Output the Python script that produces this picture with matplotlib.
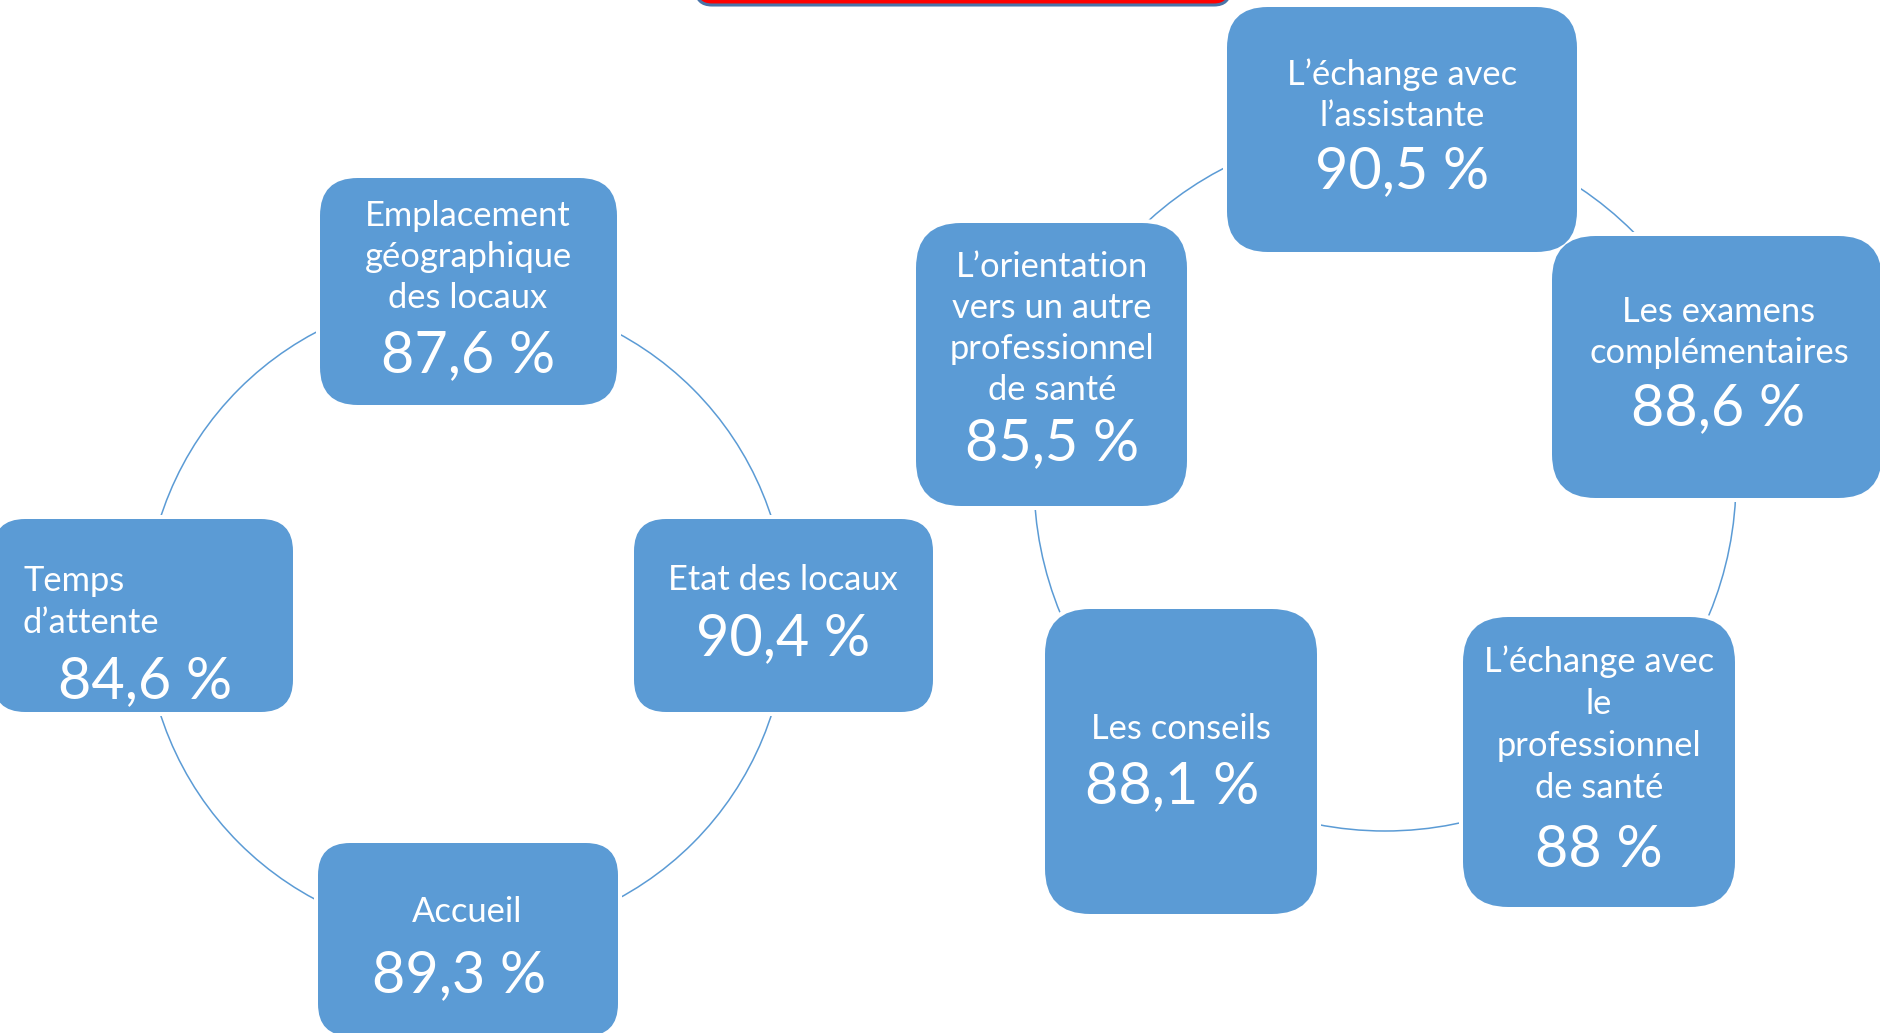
import matplotlib
matplotlib.use('Agg')
import matplotlib.pyplot as plt
from matplotlib.patches import Circle, FancyBboxPatch

plt.rcParams['font.family'] = ['Lato', 'DejaVu Sans']

# Left cycle: premises / reception
left_labels = ["Emplacement\ngéographique\ndes locaux", "Temps\nd’attente", "Etat des locaux", "Accueil"]
left_values = [87.6, 84.6, 90.4, 89.3]

# Right cycle: consultation
right_labels = ["L’échange avec\nl’assistante", "Les examens\ncomplémentaires",
                "L’échange avec\nle\nprofessionnel\nde santé", "Les conseils",
                "L’orientation\nvers un autre\nprofessionnel\nde santé"]
right_values = [90.5, 88.6, 88.0, 88.1, 85.5]

BLUE = '#5B9BD5'
W, H = 1880, 1033
LABEL_FS = 24.8
VALUE_FS = 41.5

# layout in pixels: box (x0, y0, x1, y1), label x, first baseline, line step, align, value x, value baseline
left_layout = [
    ((320, 178, 617, 405), 468, 226, 41, 'center', 468, 372),
    ((-7, 519, 293, 712), 23, 591, 42, 'left', 145, 698),
    ((634, 519, 933, 712), 783, 590, 42, 'center', 783, 655),
    ((318, 843, 618, 1036), 467, 922, 42, 'center', 459, 992),
]
right_layout = [
    ((1227, 7, 1577, 252), 1402, 85, 41, 'center', 1402, 188),
    ((1552, 236, 1882, 498), 1719, 322, 41, 'center', 1718, 425),
    ((1463, 617, 1735, 907), 1599, 672, 42, 'center', 1599, 867),
    ((1045, 609, 1317, 914), 1181, 739, 42, 'center', 1172, 803),
    ((916, 223, 1187, 506), 1052, 277, 41, 'center', 1052, 460),
]

fig = plt.figure(figsize=(W / 100, H / 100), dpi=100)
ax = fig.add_axes([0, 0, 1, 1])
ax.set_xlim(0, W)
ax.set_ylim(H, 0)
ax.axis('off')

# title box cut at the top edge
ax.add_patch(FancyBboxPatch((696, -120), 534, 125, boxstyle="round,pad=0,rounding_size=16",
                            facecolor='#FF0000', edgecolor='#4A74A8', lw=2.2, zorder=5))

# cycle rings
ax.add_patch(Circle((466, 616), 321, fill=False, edgecolor=BLUE, lw=1.1, zorder=1))
ax.add_patch(Circle((1385, 480), 351, fill=False, edgecolor=BLUE, lw=1.1, zorder=1))


def fmt(v):
    return '{:g} %'.format(v).replace('.', ',')


def draw_node(label, value, lay):
    (x0, y0, x1, y1), lx, by, step, ha, vx, vy = lay
    w, h = x1 - x0, y1 - y0
    r = 0.1667 * min(w, h)
    ax.add_patch(FancyBboxPatch((x0, y0), w, h, boxstyle=f"round,pad=4,rounding_size={r + 4}",
                                facecolor='white', edgecolor='none', zorder=2))
    ax.add_patch(FancyBboxPatch((x0, y0), w, h, boxstyle=f"round,pad=0,rounding_size={r}",
                                facecolor=BLUE, edgecolor='none', zorder=3))
    for i, line in enumerate(label.split('\n')):
        ax.text(lx, by + i * step, line, ha=ha, va='baseline', color='white',
                fontsize=LABEL_FS, zorder=4)
    ax.text(vx, vy, fmt(value), ha='center', va='baseline', color='white',
            fontsize=VALUE_FS, zorder=4)


for lab, val, lay in zip(left_labels, left_values, left_layout):
    draw_node(lab, val, lay)
for lab, val, lay in zip(right_labels, right_values, right_layout):
    draw_node(lab, val, lay)

fig.savefig('out.png', dpi=100)
